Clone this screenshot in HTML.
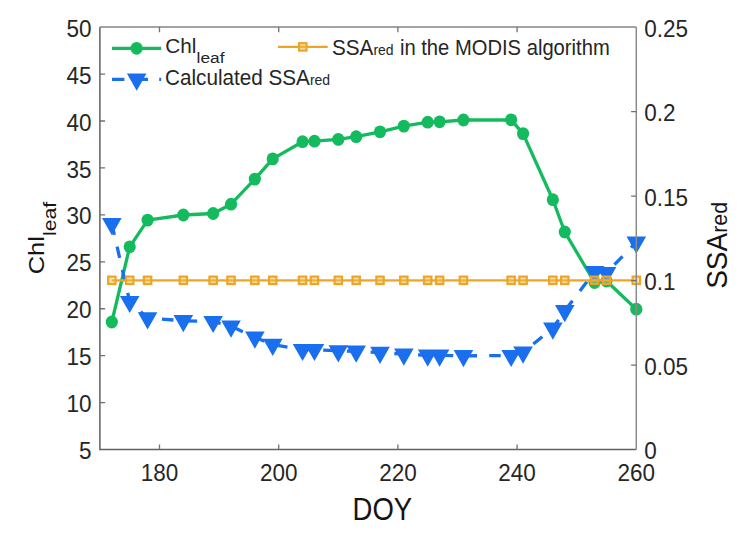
<!DOCTYPE html>
<html><head><meta charset="utf-8"><style>
html,body{margin:0;padding:0;background:#fff;width:755px;height:534px;overflow:hidden}
svg{display:block}
</style></head><body>
<svg width="755" height="534" viewBox="0 0 755 534">
<rect width="755" height="534" fill="#ffffff"/>
<polyline points="111.82,322.00 129.70,246.80 147.58,220.10 183.34,215.00 213.14,213.50 231.02,204.20 254.86,179.10 272.74,158.90 302.54,141.70 314.46,141.20 338.30,139.40 356.18,136.70 380.02,131.80 403.86,126.10 427.70,122.20 439.62,121.80 463.46,120.00 511.14,119.80 523.06,133.60 552.86,199.70 564.78,232.00 594.58,282.50 606.50,281.00 636.30,309.20" fill="none" stroke="#14BB5E" stroke-width="3.3" stroke-linejoin="round"/>
<ellipse cx="111.82" cy="322.00" rx="6.1" ry="6.4" fill="#14BB5E"/>
<ellipse cx="129.70" cy="246.80" rx="6.1" ry="6.4" fill="#14BB5E"/>
<ellipse cx="147.58" cy="220.10" rx="6.1" ry="6.4" fill="#14BB5E"/>
<ellipse cx="183.34" cy="215.00" rx="6.1" ry="6.4" fill="#14BB5E"/>
<ellipse cx="213.14" cy="213.50" rx="6.1" ry="6.4" fill="#14BB5E"/>
<ellipse cx="231.02" cy="204.20" rx="6.1" ry="6.4" fill="#14BB5E"/>
<ellipse cx="254.86" cy="179.10" rx="6.1" ry="6.4" fill="#14BB5E"/>
<ellipse cx="272.74" cy="158.90" rx="6.1" ry="6.4" fill="#14BB5E"/>
<ellipse cx="302.54" cy="141.70" rx="6.1" ry="6.4" fill="#14BB5E"/>
<ellipse cx="314.46" cy="141.20" rx="6.1" ry="6.4" fill="#14BB5E"/>
<ellipse cx="338.30" cy="139.40" rx="6.1" ry="6.4" fill="#14BB5E"/>
<ellipse cx="356.18" cy="136.70" rx="6.1" ry="6.4" fill="#14BB5E"/>
<ellipse cx="380.02" cy="131.80" rx="6.1" ry="6.4" fill="#14BB5E"/>
<ellipse cx="403.86" cy="126.10" rx="6.1" ry="6.4" fill="#14BB5E"/>
<ellipse cx="427.70" cy="122.20" rx="6.1" ry="6.4" fill="#14BB5E"/>
<ellipse cx="439.62" cy="121.80" rx="6.1" ry="6.4" fill="#14BB5E"/>
<ellipse cx="463.46" cy="120.00" rx="6.1" ry="6.4" fill="#14BB5E"/>
<ellipse cx="511.14" cy="119.80" rx="6.1" ry="6.4" fill="#14BB5E"/>
<ellipse cx="523.06" cy="133.60" rx="6.1" ry="6.4" fill="#14BB5E"/>
<ellipse cx="552.86" cy="199.70" rx="6.1" ry="6.4" fill="#14BB5E"/>
<ellipse cx="564.78" cy="232.00" rx="6.1" ry="6.4" fill="#14BB5E"/>
<ellipse cx="594.58" cy="282.50" rx="6.1" ry="6.4" fill="#14BB5E"/>
<ellipse cx="606.50" cy="281.00" rx="6.1" ry="6.4" fill="#14BB5E"/>
<ellipse cx="636.30" cy="309.20" rx="6.1" ry="6.4" fill="#14BB5E"/>
<polyline points="111.82,223.80 129.70,301.60 147.58,317.90 183.34,320.80 213.14,321.60 231.02,326.20 254.86,337.20 272.74,344.50 302.54,349.60 314.46,349.60 338.30,350.90 356.18,351.30 380.02,352.50 403.86,354.20 427.70,355.30 439.62,355.30 463.46,355.80 511.14,355.60 523.06,352.30 552.86,328.30 564.78,310.70 594.58,271.70 606.50,272.70 636.30,242.30" fill="none" stroke="#1A6FEE" stroke-width="3.3" stroke-dasharray="11.5 12.24" stroke-dashoffset="0.24"/>
<path d="M102.02,218.10L121.62,218.10L111.82,235.30ZM119.90,295.90L139.50,295.90L129.70,313.10ZM137.78,312.20L157.38,312.20L147.58,329.40ZM173.54,315.10L193.14,315.10L183.34,332.30ZM203.34,315.90L222.94,315.90L213.14,333.10ZM221.22,320.50L240.82,320.50L231.02,337.70ZM245.06,331.50L264.66,331.50L254.86,348.70ZM262.94,338.80L282.54,338.80L272.74,356.00ZM292.74,343.90L312.34,343.90L302.54,361.10ZM304.66,343.90L324.26,343.90L314.46,361.10ZM328.50,345.20L348.10,345.20L338.30,362.40ZM346.38,345.60L365.98,345.60L356.18,362.80ZM370.22,346.80L389.82,346.80L380.02,364.00ZM394.06,348.50L413.66,348.50L403.86,365.70ZM417.90,349.60L437.50,349.60L427.70,366.80ZM429.82,349.60L449.42,349.60L439.62,366.80ZM453.66,350.10L473.26,350.10L463.46,367.30ZM501.34,349.90L520.94,349.90L511.14,367.10ZM513.26,346.60L532.86,346.60L523.06,363.80ZM543.06,322.60L562.66,322.60L552.86,339.80ZM554.98,305.00L574.58,305.00L564.78,322.20ZM584.78,266.00L604.38,266.00L594.58,283.20ZM596.70,267.00L616.30,267.00L606.50,284.20ZM626.50,236.60L646.10,236.60L636.30,253.80Z" fill="#1A6FEE"/>
<line x1="111.82" y1="280.3" x2="636.3" y2="280.3" stroke="#EEA527" stroke-width="2.2"/>
<rect x="108.12" y="276.60" width="7.4" height="7.4" fill="#F2C04A" fill-opacity="0.45" stroke="#EEA527" stroke-width="2.2"/>
<rect x="126.00" y="276.60" width="7.4" height="7.4" fill="#F2C04A" fill-opacity="0.45" stroke="#EEA527" stroke-width="2.2"/>
<rect x="143.88" y="276.60" width="7.4" height="7.4" fill="#F2C04A" fill-opacity="0.45" stroke="#EEA527" stroke-width="2.2"/>
<rect x="179.64" y="276.60" width="7.4" height="7.4" fill="#F2C04A" fill-opacity="0.45" stroke="#EEA527" stroke-width="2.2"/>
<rect x="209.44" y="276.60" width="7.4" height="7.4" fill="#F2C04A" fill-opacity="0.45" stroke="#EEA527" stroke-width="2.2"/>
<rect x="227.32" y="276.60" width="7.4" height="7.4" fill="#F2C04A" fill-opacity="0.45" stroke="#EEA527" stroke-width="2.2"/>
<rect x="251.16" y="276.60" width="7.4" height="7.4" fill="#F2C04A" fill-opacity="0.45" stroke="#EEA527" stroke-width="2.2"/>
<rect x="269.04" y="276.60" width="7.4" height="7.4" fill="#F2C04A" fill-opacity="0.45" stroke="#EEA527" stroke-width="2.2"/>
<rect x="298.84" y="276.60" width="7.4" height="7.4" fill="#F2C04A" fill-opacity="0.45" stroke="#EEA527" stroke-width="2.2"/>
<rect x="310.76" y="276.60" width="7.4" height="7.4" fill="#F2C04A" fill-opacity="0.45" stroke="#EEA527" stroke-width="2.2"/>
<rect x="334.60" y="276.60" width="7.4" height="7.4" fill="#F2C04A" fill-opacity="0.45" stroke="#EEA527" stroke-width="2.2"/>
<rect x="352.48" y="276.60" width="7.4" height="7.4" fill="#F2C04A" fill-opacity="0.45" stroke="#EEA527" stroke-width="2.2"/>
<rect x="376.32" y="276.60" width="7.4" height="7.4" fill="#F2C04A" fill-opacity="0.45" stroke="#EEA527" stroke-width="2.2"/>
<rect x="400.16" y="276.60" width="7.4" height="7.4" fill="#F2C04A" fill-opacity="0.45" stroke="#EEA527" stroke-width="2.2"/>
<rect x="424.00" y="276.60" width="7.4" height="7.4" fill="#F2C04A" fill-opacity="0.45" stroke="#EEA527" stroke-width="2.2"/>
<rect x="435.92" y="276.60" width="7.4" height="7.4" fill="#F2C04A" fill-opacity="0.45" stroke="#EEA527" stroke-width="2.2"/>
<rect x="459.76" y="276.60" width="7.4" height="7.4" fill="#F2C04A" fill-opacity="0.45" stroke="#EEA527" stroke-width="2.2"/>
<rect x="507.44" y="276.60" width="7.4" height="7.4" fill="#F2C04A" fill-opacity="0.45" stroke="#EEA527" stroke-width="2.2"/>
<rect x="519.36" y="276.60" width="7.4" height="7.4" fill="#F2C04A" fill-opacity="0.45" stroke="#EEA527" stroke-width="2.2"/>
<rect x="549.16" y="276.60" width="7.4" height="7.4" fill="#F2C04A" fill-opacity="0.45" stroke="#EEA527" stroke-width="2.2"/>
<rect x="561.08" y="276.60" width="7.4" height="7.4" fill="#F2C04A" fill-opacity="0.45" stroke="#EEA527" stroke-width="2.2"/>
<rect x="590.88" y="276.60" width="7.4" height="7.4" fill="#F2C04A" fill-opacity="0.45" stroke="#EEA527" stroke-width="2.2"/>
<rect x="602.80" y="276.60" width="7.4" height="7.4" fill="#F2C04A" fill-opacity="0.45" stroke="#EEA527" stroke-width="2.2"/>
<rect x="632.60" y="276.60" width="7.4" height="7.4" fill="#F2C04A" fill-opacity="0.45" stroke="#EEA527" stroke-width="2.2"/>
<path d="M99.9,27.1V449.6H636.3" fill="none" stroke="#606060" stroke-width="1.5"/>
<path d="M99.9,27.1H636.3" fill="none" stroke="#858585" stroke-width="1.5"/>
<path d="M636.3,27.1V449.6" fill="none" stroke="#8a8a8a" stroke-width="1.5"/>
<path d="M99.90,402.66h5.2M99.90,355.71h5.2M99.90,308.77h5.2M99.90,261.82h5.2M99.90,214.88h5.2M99.90,167.93h5.2M99.90,120.99h5.2M99.90,74.04h5.2M636.30,365.10h-5.2M636.30,280.60h-5.2M636.30,196.10h-5.2M636.30,111.60h-5.2M159.50,449.60v-5.2M159.50,27.10v5.2M278.70,449.60v-5.2M278.70,27.10v5.2M397.90,449.60v-5.2M397.90,27.10v5.2M517.10,449.60v-5.2M517.10,27.10v5.2" fill="none" stroke="#707070" stroke-width="1.3"/>
<text transform="translate(91.60,459.20) scale(1,1.09)" font-family="&quot;Liberation Sans&quot;, sans-serif" font-size="22.5" fill="#262626" text-anchor="end">5</text>
<text transform="translate(91.60,412.26) scale(1,1.09)" font-family="&quot;Liberation Sans&quot;, sans-serif" font-size="22.5" fill="#262626" text-anchor="end">10</text>
<text transform="translate(91.60,365.31) scale(1,1.09)" font-family="&quot;Liberation Sans&quot;, sans-serif" font-size="22.5" fill="#262626" text-anchor="end">15</text>
<text transform="translate(91.60,318.37) scale(1,1.09)" font-family="&quot;Liberation Sans&quot;, sans-serif" font-size="22.5" fill="#262626" text-anchor="end">20</text>
<text transform="translate(91.60,271.42) scale(1,1.09)" font-family="&quot;Liberation Sans&quot;, sans-serif" font-size="22.5" fill="#262626" text-anchor="end">25</text>
<text transform="translate(91.60,224.48) scale(1,1.09)" font-family="&quot;Liberation Sans&quot;, sans-serif" font-size="22.5" fill="#262626" text-anchor="end">30</text>
<text transform="translate(91.60,177.53) scale(1,1.09)" font-family="&quot;Liberation Sans&quot;, sans-serif" font-size="22.5" fill="#262626" text-anchor="end">35</text>
<text transform="translate(91.60,130.59) scale(1,1.09)" font-family="&quot;Liberation Sans&quot;, sans-serif" font-size="22.5" fill="#262626" text-anchor="end">40</text>
<text transform="translate(91.60,83.64) scale(1,1.09)" font-family="&quot;Liberation Sans&quot;, sans-serif" font-size="22.5" fill="#262626" text-anchor="end">45</text>
<text transform="translate(91.60,36.70) scale(1,1.09)" font-family="&quot;Liberation Sans&quot;, sans-serif" font-size="22.5" fill="#262626" text-anchor="end">50</text>
<text transform="translate(644.20,459.20) scale(1,1.09)" font-family="&quot;Liberation Sans&quot;, sans-serif" font-size="22.5" fill="#262626">0</text>
<text transform="translate(644.20,374.70) scale(1,1.09)" font-family="&quot;Liberation Sans&quot;, sans-serif" font-size="22.5" fill="#262626">0.05</text>
<text transform="translate(644.20,290.20) scale(1,1.09)" font-family="&quot;Liberation Sans&quot;, sans-serif" font-size="22.5" fill="#262626">0.1</text>
<text transform="translate(644.20,205.70) scale(1,1.09)" font-family="&quot;Liberation Sans&quot;, sans-serif" font-size="22.5" fill="#262626">0.15</text>
<text transform="translate(644.20,121.20) scale(1,1.09)" font-family="&quot;Liberation Sans&quot;, sans-serif" font-size="22.5" fill="#262626">0.2</text>
<text transform="translate(644.20,36.70) scale(1,1.09)" font-family="&quot;Liberation Sans&quot;, sans-serif" font-size="22.5" fill="#262626">0.25</text>
<text transform="translate(159.50,481.30) scale(1,1.09)" font-family="&quot;Liberation Sans&quot;, sans-serif" font-size="22.5" fill="#262626" text-anchor="middle">180</text>
<text transform="translate(278.70,481.30) scale(1,1.09)" font-family="&quot;Liberation Sans&quot;, sans-serif" font-size="22.5" fill="#262626" text-anchor="middle">200</text>
<text transform="translate(397.90,481.30) scale(1,1.09)" font-family="&quot;Liberation Sans&quot;, sans-serif" font-size="22.5" fill="#262626" text-anchor="middle">220</text>
<text transform="translate(517.10,481.30) scale(1,1.09)" font-family="&quot;Liberation Sans&quot;, sans-serif" font-size="22.5" fill="#262626" text-anchor="middle">240</text>
<text transform="translate(636.30,481.30) scale(1,1.09)" font-family="&quot;Liberation Sans&quot;, sans-serif" font-size="22.5" fill="#262626" text-anchor="middle">260</text>
<text transform="translate(382.40,519.50) scale(1,1.11)" font-family="&quot;Liberation Sans&quot;, sans-serif" font-size="27.5" fill="#141414" text-anchor="middle">DOY</text>
<text transform="translate(43.90,274.30) rotate(-90) scale(1,0.9)" font-family="&quot;Liberation Sans&quot;, sans-serif" font-size="25.4" fill="#141414">Chl</text>
<text transform="translate(55.50,236.00) rotate(-90) scale(1,0.87)" font-family="&quot;Liberation Sans&quot;, sans-serif" font-size="21.2" fill="#141414">leaf</text>
<text transform="translate(726.90,288.80) rotate(-90) scale(1,1.03)" font-family="&quot;Liberation Sans&quot;, sans-serif" font-size="28" fill="#141414">SSA<tspan font-size="21.3">red</tspan></text>
<line x1="112" y1="48.3" x2="161.2" y2="48.3" stroke="#14BB5E" stroke-width="3.3"/>
<ellipse cx="136.6" cy="48.3" rx="6.1" ry="6.4" fill="#14BB5E"/>
<text transform="translate(165.20,52.80) scale(1,1.0)" font-family="&quot;Liberation Sans&quot;, sans-serif" font-size="20.7" fill="#262626">Chl</text>
<text transform="translate(196.60,63.10) scale(1,0.86)" font-family="&quot;Liberation Sans&quot;, sans-serif" font-size="17.3" fill="#262626">leaf</text>
<line x1="278" y1="46.9" x2="327.7" y2="46.9" stroke="#EEA527" stroke-width="2.2"/>
<rect x="299.10" y="43.20" width="7.4" height="7.4" fill="#F2C04A" fill-opacity="0.45" stroke="#EEA527" stroke-width="2.2"/>
<text transform="translate(332.00,54.50) scale(1,1.07)" font-family="&quot;Liberation Sans&quot;, sans-serif" font-size="20.7" fill="#262626">SSA<tspan font-size="14">red</tspan></text>
<text transform="translate(399.90,54.50) scale(1,1.07)" font-family="&quot;Liberation Sans&quot;, sans-serif" font-size="20.2" fill="#262626">in the MODIS algorithm</text>
<line x1="112" y1="79.3" x2="161.2" y2="79.3" stroke="#1A6FEE" stroke-width="3.3" stroke-dasharray="12.4 11.2"/>
<path d="M126.90,73.60L146.50,73.60L136.70,90.80Z" fill="#1A6FEE"/>
<text transform="translate(165.00,85.30) scale(1,1.07)" font-family="&quot;Liberation Sans&quot;, sans-serif" font-size="20.7" fill="#262626">Calculated SSA<tspan font-size="14">red</tspan></text>
</svg>
</body></html>
